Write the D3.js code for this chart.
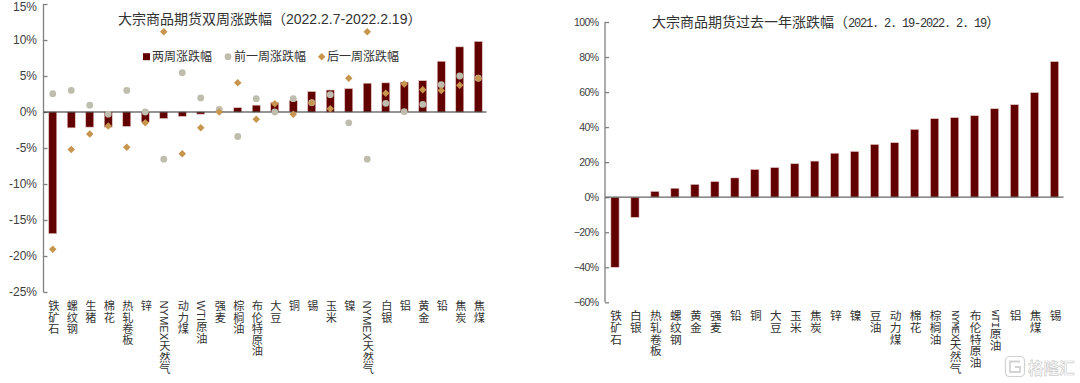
<!DOCTYPE html>
<html>
<head>
<meta charset="utf-8">
<script src="https://cdn.jsdelivr.net/npm/d3@7"></script>
<style>
  html, body { margin: 0; padding: 0; background: #fff; overflow: hidden; }
  svg { display: block; }
  text { font-family: "Liberation Sans", "Noto Sans CJK SC", sans-serif; fill: #333; }
  .mono { font-family: "Liberation Mono", monospace; }
</style>
</head>
<body>
<svg id="chart"></svg>
<script>
// left chart data
var leftCats = ["铁矿石","螺纹钢","生猪","棉花","热轧卷板","锌","NYMEX天然气","动力煤","WTI原油","强麦","棕榈油","布伦特原油","大豆","铜","锡","玉米","镍","NYMEX天然气","白银","铝","黄金","铅","焦炭","焦煤"];
var twoWeek = [-16.9,-2.2,-2.1,-2.1,-2.0,-1.4,-0.9,-0.6,-0.3,0.1,0.6,0.95,1.3,1.6,2.85,3.05,3.25,4.0,4.05,4.15,4.35,7.05,9.05,9.8];
var prevWeek = [2.55,3.0,0.95,-0.3,3.0,0.0,-6.55,5.45,1.95,0.35,-3.4,1.85,0.0,1.85,1.3,2.4,-1.5,-6.55,1.2,0.05,1.05,3.8,5.0,4.7];
var nextWeek = [-19.05,-5.2,-3.05,-1.95,-4.9,-1.5,11.15,-5.8,-2.2,0.0,4.05,-1.0,1.15,-0.3,1.3,0.45,4.7,11.15,2.6,3.9,3.1,3.0,3.7,4.7];
var leftTicks = [15,10,5,0,-5,-10,-15,-20,-25];

// right chart data
var rightCats = ["铁矿石","白银","热轧卷板","螺纹钢","黄金","强麦","铅","铜","大豆","玉米","焦炭","锌","镍","豆油","动力煤","棉花","棕榈油","NYMEX天然气","布伦特原油","WTI原油","铝","焦煤","锡"];
var oneYear = [-40,-11.5,3.3,5.1,7.3,8.9,11,15.8,16.9,19.1,20.6,25.1,26.1,30.1,31.1,38.7,44.8,45.4,46.5,50.5,52.8,59.7,77.4];
var rightTicks = [100,80,60,40,20,0,-20,-40,-60];

var barColor = "#620000", circleColor = "#bfbdad", diamondColor = "#c8954e";

var svg = d3.select("#chart").attr("width", 1080).attr("height", 383);

// shared frame: value axis with inside ticks, line at zero, bars and stacked labels
function makePanel(cats, values, ticks, o){
  var x = d3.scaleBand().domain(d3.range(cats.length)).range([o.x0, o.x1]);
  var y = d3.scaleLinear().domain(o.domain).range([o.y0, o.y1]);
  var g = svg.append("g");

  g.selectAll("rect.bar")
    .data(values)
    .enter()
    .append("rect")
    .attr("class", "bar")
    .attr("x", function(d,i){ return x(i) + x.bandwidth()/2 - o.barWidth/2 })
    .attr("width", o.barWidth)
    .attr("y", function(d){ return y(Math.max(d,0)) })
    .attr("height", function(d){ return Math.abs(y(d)-y(0)) })
    .attr("fill", barColor)
    .attr("stroke", "#e3c4c4")
    .attr("stroke-width", 0.6);

  var axis = g.append("g")
    .attr("transform", "translate(" + o.x0 + ",0)")
    .call(d3.axisLeft(y).tickValues(ticks).tickSize(-4).tickPadding(o.pad).tickFormat(o.format));
  axis.selectAll("path,line").attr("stroke", "#808080").attr("stroke-width", 1.3);
  axis.select(".domain").attr("d", "M0," + o.y0 + "V" + o.y1);
  axis.selectAll("text")
    .attr("font-size", o.tickSize)
    .attr("letter-spacing", o.tickSpacing)
    .attr("font-family", null)
    .style("fill", "#404040");
  // top label sits against the page edge, keep it inside the picture
  axis.selectAll(".tick text")
    .filter(function(d){ return y(d) < 8 })
    .attr("dy", "0.57em");

  g.append("line")
    .attr("x1", o.x0).attr("x2", o.x1 - 1)
    .attr("y1", y(0)).attr("y2", y(0))
    .attr("stroke", o.zeroColor)
    .attr("stroke-width", 1.2);

  var labels = g.selectAll("text.cat")
    .data(cats)
    .enter()
    .append("text")
    .attr("class", "cat")
    .attr("x", function(d,i){ return x(i) + x.bandwidth()/2 })
    .attr("y", o.labelTop)
    .attr("font-size", o.labelSize)
    .style("writing-mode", "vertical-rl")
    .style("text-orientation", "mixed");

  // the right chart sets latin letters half width
  labels.each(function(d){
    var t = d3.select(this);
    d.split(/([A-Za-z]+)/).filter(Boolean).forEach(function(part){
      var span = t.append("tspan").text(part);
      if (o.latinSize && /[A-Za-z]/.test(part)) {
        span.attr("class", "mono").attr("font-size", o.latinSize).attr("letter-spacing", -0.75);
      }
    });
  });

  return {x: x, y: y, g: g};
}

var left = makePanel(leftCats, twoWeek, leftTicks, {
  x0: 43.5, x1: 487.5, y0: 292, y1: 4, domain: [-25,15], barWidth: 8,
  pad: 6.5, tickSize: 12, tickSpacing: 0, labelTop: 300.5, labelSize: 11.2, zeroColor: "#2b2b2b",
  format: function(d){ return d + "%" }
});

var right = makePanel(rightCats, oneYear, rightTicks, {
  x0: 605, x1: 1064.5, y0: 302.3, y1: 22, domain: [-60,100], barWidth: 8.2,
  pad: 6.5, tickSize: 10.5, tickSpacing: -0.6, labelTop: 310, labelSize: 11.7, latinSize: 11, zeroColor: "#666",
  format: function(d){ return String(d).replace("-", "\u2212") + "%" }
});

// scatter series on the left chart
var cx = function(d,i){ return left.x(i) + left.x.bandwidth()/2 };
left.g.selectAll("circle.prev")
  .data(prevWeek)
  .enter()
  .append("circle")
  .attr("class", "prev")
  .attr("cx", cx)
  .attr("cy", function(d){ return left.y(d) })
  .attr("r", 3.4)
  .attr("fill", circleColor);

var diamond = d3.symbol().type(d3.symbolDiamond2).size(36);
left.g.selectAll("path.next")
  .data(nextWeek)
  .enter()
  .append("path")
  .attr("class", "next")
  .attr("d", diamond)
  .attr("transform", function(d,i){ return "translate(" + cx(d,i) + "," + left.y(d) + ")" })
  .attr("fill", diamondColor);

// legend
var legendY = 56.7;
left.g.append("rect").attr("x", 143).attr("y", legendY-3.5).attr("width", 7).attr("height", 7).attr("fill", barColor);
left.g.append("circle").attr("cx", 228).attr("cy", legendY).attr("r", 3.4).attr("fill", circleColor);
left.g.append("path").attr("d", diamond).attr("transform", "translate(321.7," + legendY + ")").attr("fill", diamondColor);

function legendLabel(label, x){
  left.g.append("text")
    .text(label)
    .attr("x", x)
    .attr("y", legendY + 4.3)
    .attr("font-size", 12);
}
legendLabel("两周涨跌幅", 152);
legendLabel("前一周涨跌幅", 234);
legendLabel("后一周涨跌幅", 327);

// titles
svg.append("text").text("大宗商品期货双周涨跌幅（2022.2.7-2022.2.19）")
  .attr("x", 118).attr("y", 24).attr("font-size", 14);

var rightTitle = svg.append("text")
  .attr("x", 652).attr("y", 26.5).attr("font-size", 14);
rightTitle.append("tspan").text("大宗商品期货过去一年涨跌幅（");
rightTitle.append("tspan").text("2021. 2. 19-2022. 2. 19")
  .attr("class", "mono").attr("font-size", 12).attr("letter-spacing", -1.2);
rightTitle.append("tspan").text("）");

// watermark
var mark = svg.append("g").attr("fill", "#fff").attr("stroke", "#d2d2d2").attr("stroke-width", 1.2);
mark.append("rect").attr("x", 1005.5).attr("y", 356.5).attr("width", 19).attr("height", 20).attr("rx", 4);
mark.append("path").attr("d", "M1020,361.5H1010V372H1020V367H1015").attr("fill", "none").attr("stroke-width", 1.8);
mark.append("text").text("格隆汇").attr("x", 1028).attr("y", 374)
  .attr("font-size", 15.5).attr("font-weight", 700)
  .style("fill", "#fff").style("stroke", "#cfcfcf").style("stroke-width", 0.7);
</script>
</body>
</html>
